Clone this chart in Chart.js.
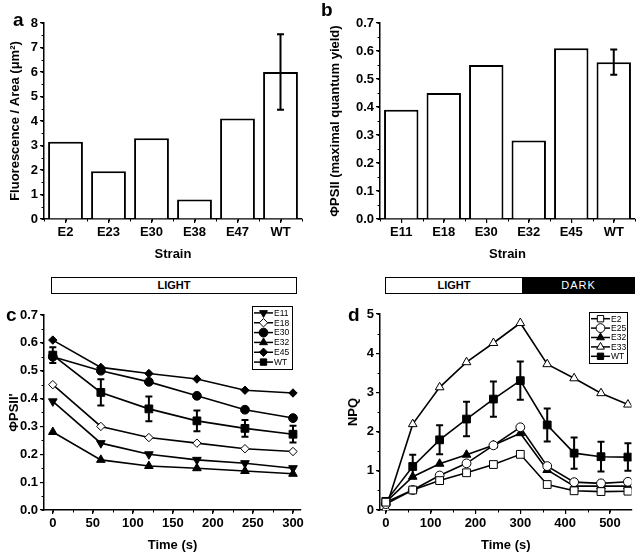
<!DOCTYPE html>
<html>
<head>
<meta charset="utf-8">
<script src="https://cdn.jsdelivr.net/npm/chart.js@4/dist/chart.umd.min.js"></script>
<style>
  body { margin: 0; background: #fff; }
  #fig { position: relative; width: 638px; height: 553px; font-family: "Liberation Sans", Arial, sans-serif; }
  .pane { position: absolute; }
  .letter { position: absolute; font-weight: bold; font-size: 19px; line-height: 19px; }
  .phase { position: absolute; height: 17px; box-sizing: border-box; border: 1px solid #000; text-align: center;
           line-height: 15px; font-size: 11px; }
  .light { background: #fff; color: #000; font-weight: bold; font-family: "Liberation Sans Narrow", "Liberation Sans", Arial, sans-serif; }
  .dark { background: #000; color: #fff; letter-spacing: 1px; }
</style>
</head>
<body>
<div id="fig">
  <div class="pane" style="left:0;top:0;width:320px;height:265px"><canvas id="chartA"></canvas></div>
  <div class="pane" style="left:320px;top:0;width:318px;height:265px"><canvas id="chartB"></canvas></div>
  <div class="pane" style="left:0;top:295px;width:320px;height:258px"><canvas id="chartC"></canvas></div>
  <div class="pane" style="left:320px;top:295px;width:318px;height:258px"><canvas id="chartD"></canvas></div>

  <div class="letter" style="left:13px;top:10px">a</div>
  <div class="letter" style="left:321px;top:0px">b</div>
  <div class="letter" style="left:6px;top:305px">c</div>
  <div class="letter" style="left:348px;top:305px">d</div>

  <div class="phase light" style="left:51px;top:277px;width:246px">LIGHT</div>
  <div class="phase light" style="left:385px;top:277px;width:138px">LIGHT</div>
  <div class="phase dark" style="left:522px;top:277px;width:113px">DARK</div>
</div>
<script>
// panel a - fluorescence par souche
var strainsA = ['E2', 'E23', 'E30', 'E38', 'E47', 'WT'];
var fluorA = [3.15, 1.95, 3.3, 0.8, 4.1, 6.0];
var fluorErrA = [0, 0, 0, 0, 0, 1.54];

// panel b - rendement quantique maximal
var strainsB = ['E11', 'E18', 'E30', 'E32', 'E45', 'WT'];
var yieldB = [0.39, 0.45, 0.55, 0.28, 0.61, 0.56];
var yieldErrB = [0, 0, 0, 0, 0, 0.045];

// panel c - PhiPSII' pendant la lumiere
var timeC = [0, 60, 120, 180, 240, 300];
var e11C = [0.39, 0.24, 0.20, 0.18, 0.168, 0.15];
var e18C = [0.45, 0.30, 0.26, 0.24, 0.22, 0.21];
var e30C = [0.55, 0.50, 0.46, 0.41, 0.36, 0.33];
var e32C = [0.28, 0.18, 0.158, 0.15, 0.14, 0.13];
var e45C = [0.61, 0.512, 0.49, 0.47, 0.43, 0.42];
var wtC = [0.556, 0.422, 0.363, 0.32, 0.293, 0.272];
var wtErrC = [0.028, 0.047, 0.044, 0.037, 0.03, 0.03];

// panel d - NPQ lumiere puis obscurite
var timeD = [0, 60, 120, 180, 240, 300, 360, 420, 480, 540];
var e2D = [0.2, 0.51, 0.75, 0.95, 1.16, 1.42, 0.65, 0.49, 0.47, 0.48];
var e25D = [0.15, 0.51, 0.88, 1.19, 1.65, 2.11, 1.12, 0.71, 0.68, 0.72];
var e32D = [0.2, 0.85, 1.18, 1.41, 1.65, 1.96, 1.02, 0.61, 0.61, 0.61];
var e33D = [0.04, 2.19, 3.13, 3.77, 4.26, 4.77, 3.72, 3.36, 2.98, 2.69];
var wtD = [0.22, 1.11, 1.79, 2.32, 2.83, 3.30, 2.17, 1.45, 1.36, 1.35];
var wtErrD = [0, 0.3, 0.37, 0.44, 0.45, 0.49, 0.42, 0.4, 0.38, 0.35];

var FONT = "'Liberation Sans', Arial, sans-serif";
var tickFont = { family: FONT, size: 13, weight: 'bold' };
var titleFont = { family: FONT, size: 13, weight: 'bold' };

// barres d'erreur
var errorBars = {
  id: 'errorBars',
  afterDatasetsDraw: function(chart) {
    var ctx = chart.ctx, ys = chart.scales.y;
    chart.data.datasets.forEach(function(ds, i) {
      if (!ds.errors) return;
      chart.getDatasetMeta(i).data.forEach(function(el, j) {
        var e = ds.errors[j];
        if (!e) return;
        var v = typeof ds.data[j] === 'object' ? ds.data[j].y : ds.data[j];
        var t = ys.getPixelForValue(v + e), b = ys.getPixelForValue(v - e);
        ctx.save();
        ctx.strokeStyle = '#000';
        ctx.lineWidth = 2;
        ctx.beginPath();
        ctx.moveTo(el.x, t); ctx.lineTo(el.x, b);
        ctx.moveTo(el.x - 3.5, t); ctx.lineTo(el.x + 3.5, t);
        ctx.moveTo(el.x - 3.5, b); ctx.lineTo(el.x + 3.5, b);
        ctx.stroke();
        ctx.restore();
      });
    });
  }
};

// petites graduations
var minorTicks = {
  id: 'minorTicks',
  afterDraw: function(chart, args, opts) {
    var ctx = chart.ctx;
    ['x', 'y'].forEach(function(k) {
      var step = opts[k];
      if (!step) return;
      var sc = chart.scales[k];
      var lo = sc._startValue, hi = sc._startValue + sc._valueRange;
      ctx.save();
      ctx.strokeStyle = '#000';
      ctx.lineWidth = 1;
      var n0 = Math.ceil(lo / step - 1e-6), n1 = Math.floor(hi / step + 1e-6);
      for (var n = n0; n <= n1; n++) {
        var p = Math.round(sc.getPixelForValue(n * step)) + 0.5;
        ctx.beginPath();
        if (k === 'x') { ctx.moveTo(p, sc.top); ctx.lineTo(p, sc.top + 2.5); }
        else { ctx.moveTo(sc.right, p); ctx.lineTo(sc.right - 2.5, p); }
        ctx.stroke();
      }
      ctx.restore();
    });
  }
};

// legende encadree
var boxLegend = {
  id: 'boxLegend',
  afterDraw: function(chart, args, o) {
    if (!o.w) return;
    var ctx = chart.ctx, dsets = chart.data.datasets;
    var rowH = (o.h - 4) / dsets.length;
    ctx.save();
    ctx.strokeStyle = '#000';
    ctx.lineWidth = 1;
    ctx.fillStyle = '#fff';
    ctx.fillRect(o.x, o.y, o.w, o.h);
    ctx.strokeRect(o.x + 0.5, o.y + 0.5, o.w, o.h);
    dsets.forEach(function(ds, i) {
      var cy = o.y + 2 + rowH * (i + 0.5);
      ctx.strokeStyle = '#000';
      ctx.lineWidth = 1.5;
      ctx.beginPath();
      ctx.moveTo(o.x + 2, cy); ctx.lineTo(o.x + 21, cy);
      ctx.stroke();
      ctx.fillStyle = ds.pointBackgroundColor;
      ctx.lineWidth = 1;
      Chart.helpers.drawPoint(ctx, { pointStyle: ds.pointStyle, rotation: ds.pointRotation || 0, radius: Math.min(ds.pointRadius, 4.5), borderWidth: 1 }, o.x + 11.5, cy);
      ctx.fillStyle = '#000';
      ctx.font = '8.5px ' + FONT;
      ctx.textBaseline = 'middle';
      ctx.fillText(ds.label, o.x + 22, cy + 0.5);
    });
    ctx.restore();
  }
};

function fixWidth(w) { return function(s) { s.width = w; }; }
function fixHeight(h) { return function(s) { s.height = h; }; }

function yAxis(max, step, dec, title, pad, width) {
  return {
    min: 0, max: max,
    afterFit: fixWidth(width),
    border: { color: '#000', width: 1.5 },
    grid: { drawOnChartArea: false, color: '#000', tickLength: 4, lineWidth: 1.2 },
    ticks: { stepSize: step, color: '#000', font: tickFont, padding: 2,
             callback: function(v) { return v.toFixed(dec); } },
    title: { display: true, text: title, color: '#000', font: titleFont, padding: { top: pad } }
  };
}

function barChart(id, labels, values, errs, ymax, ystep, ydec, ytitle, ypad, ywidth, padRight, minorY) {
  return new Chart(document.getElementById(id), {
    type: 'bar',
    data: {
      labels: labels,
      datasets: [{
        data: values,
        errors: errs,
        backgroundColor: '#fff',
        borderColor: '#000',
        borderWidth: 2,
        barPercentage: 0.81,
        categoryPercentage: 1
      }]
    },
    options: {
      responsive: true,
      maintainAspectRatio: false,
      animation: false,
      layout: { padding: { top: 23, right: padRight, left: 0, bottom: 0 } },
      plugins: { legend: { display: false }, tooltip: { enabled: false }, minorTicks: { x: 0.5, y: minorY } },
      scales: {
        x: {
          afterFit: fixHeight(46),
          border: { color: '#000', width: 1.5 },
          grid: { display: true, offset: false, drawOnChartArea: false, color: '#000', tickLength: 4, lineWidth: 1.2 },
          ticks: { color: '#000', font: tickFont, padding: 2 },
          title: { display: true, text: 'Strain', color: '#000', font: titleFont, padding: { bottom: 3 } }
        },
        y: yAxis(ymax, ystep, ydec, ytitle, ypad, ywidth)
      }
    },
    plugins: [errorBars, minorTicks]
  });
}

function pts(xs, ys) { return xs.map(function(x, i) { return { x: x, y: ys[i] }; }); }

function series(label, xs, ys, style, fill, rot, r, errs) {
  return {
    label: label,
    data: pts(xs, ys),
    errors: errs,
    borderColor: '#000',
    borderWidth: 1.6,
    pointStyle: style,
    pointRotation: rot || 0,
    pointRadius: r || 4.5,
    pointBackgroundColor: fill,
    pointBorderColor: '#000',
    pointBorderWidth: 1,
    tension: 0
  };
}

function lineChart(id, datasets, xmin, xmax, xstep, minorX, ymax, ystep, ydec, ytitle, ypad, ywidth, padTop, padRight, minorY, legend) {
  return new Chart(document.getElementById(id), {
    type: 'line',
    data: { datasets: datasets },
    options: {
      responsive: true,
      maintainAspectRatio: false,
      animation: false,
      layout: { padding: { top: padTop, right: padRight, left: 0, bottom: 0 } },
      plugins: {
        legend: { display: false },
        tooltip: { enabled: false },
        minorTicks: { x: minorX, y: minorY },
        boxLegend: legend
      },
      scales: {
        x: {
          type: 'linear', min: xmin, max: xmax,
          afterFit: fixHeight(43),
          border: { color: '#000', width: 1.5 },
          grid: { drawOnChartArea: false, color: '#000', tickLength: 4, lineWidth: 1.2 },
          ticks: { stepSize: xstep, includeBounds: false, color: '#000', font: tickFont, padding: 2 },
          title: { display: true, text: 'Time (s)', color: '#000', font: titleFont, padding: { bottom: 0 } }
        },
        y: yAxis(ymax, ystep, ydec, ytitle, ypad, ywidth)
      }
    },
    plugins: [errorBars, minorTicks, boxLegend]
  });
}

barChart('chartA', strainsA, fluorA, fluorErrA, 8, 1, 0, 'Fluorescence / Area (\u03bcm\u00b2)', 8, 44, 18, 0.5);
barChart('chartB', strainsB, yieldB, yieldErrB, 0.7, 0.1, 1, '\u03a6PSII (maximal quantum yield)', 8, 60, 3, 0.05);

lineChart('chartC', [
  series('E11', timeC, e11C, 'triangle', '#000', 180, 5),
  series('E18', timeC, e18C, 'rectRot', '#fff', 0, 4.2),
  series('E30', timeC, e30C, 'circle', '#000', 0, 4.4),
  series('E32', timeC, e32C, 'triangle', '#000', 0, 5),
  series('E45', timeC, e45C, 'rectRot', '#000', 0, 4.2),
  series('WT', timeC, wtC, 'rect', '#000', 0, 5.5, wtErrC)
], -11, 310, 50, 25, 0.7, 0.1, 1, '\u03a6PSII\'', 7, 44, 20, 19, 0.05,
  { x: 252, y: 11, w: 40, h: 63 });

lineChart('chartD', [
  series('E2', timeD, e2D, 'rect', '#fff', 0, 5.5),
  series('E25', timeD, e25D, 'circle', '#fff', 0, 4.4),
  series('E32', timeD, e32D, 'triangle', '#000', 0, 5),
  series('E33', timeD, e33D, 'triangle', '#fff', 0, 5),
  series('WT', timeD, wtD, 'rect', '#000', 0, 5.5, wtErrD)
], -13, 548, 100, 50, 5, 1, 0, 'NPQ', 26, 60, 19, 3, 0.5,
  { x: 269, y: 17, w: 38, h: 51 });
</script>
</body>
</html>
